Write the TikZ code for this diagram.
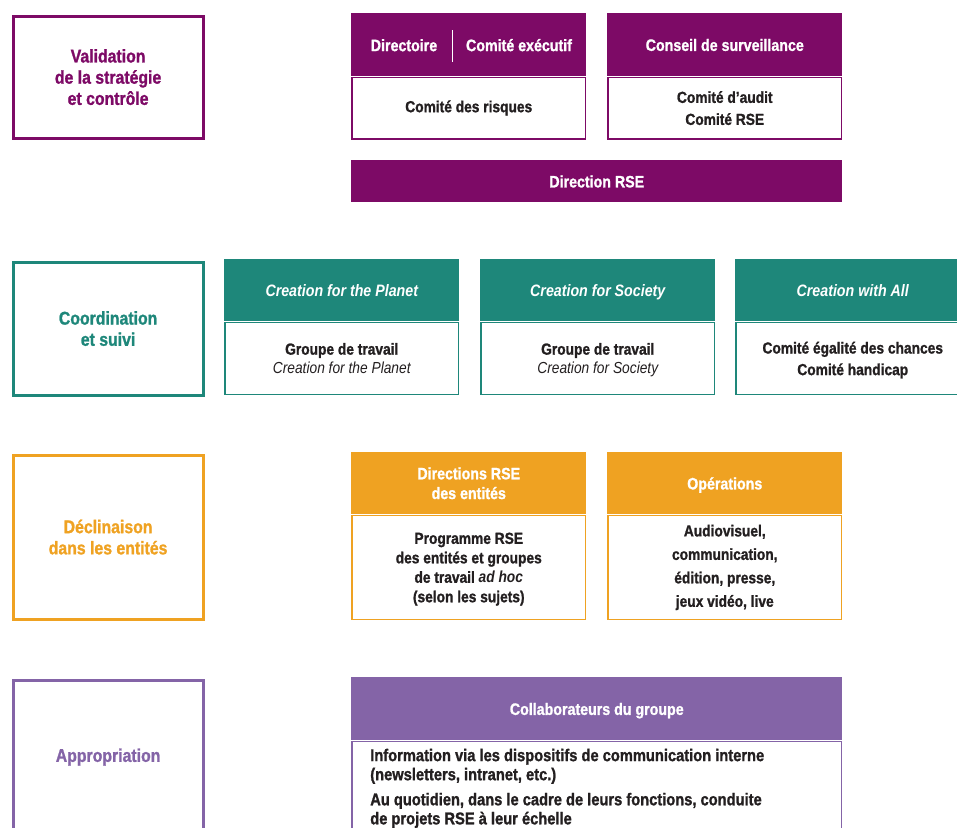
\documentclass[tikz,border=0pt]{standalone}
\usepackage{fontspec}
\setmainfont{Liberation Sans}[FakeStretch=0.86, BoldFeatures={FakeBold=1.2}]
\usetikzlibrary{positioning}

\definecolor{plum}{RGB}{125,10,102}
\definecolor{teal}{RGB}{30,135,122}
\definecolor{amber}{RGB}{239,162,34}
\definecolor{lavender}{RGB}{132,100,167}
\definecolor{ink}{RGB}{35,31,32}

\tikzset{
  sz/.style 2 args={minimum width=#1*0.75pt, minimum height=#2*0.75pt},
  % level boxes on the left
  lab/.style={draw=#1, line width=2.4pt, text=#1, align=center, inner sep=0pt,
    anchor=north west, font=\bfseries\fontsize{13.8}{15.9}\selectfont},
  % coloured title bands
  hd/.style={fill=#1, text=white, align=center, inner sep=0pt, anchor=north west,
    font=\bfseries\fontsize{12.4}{14.8}\selectfont},
  hdone/.style={text height=11.6pt, text depth=2.4pt},
  one/.style={text height=8.8pt, text depth=2.6pt},
  hdtxt/.style={text=white, inner sep=0pt, font=\bfseries\fontsize{12.4}{14.8}\selectfont},
  % white bodies under the bands
  bd/.style={draw=#1, line width=1.2pt, fill=white, text=ink, align=center, inner sep=0pt,
    font=\bfseries\fontsize{12}{14.4}\selectfont},
}

\begin{document}
\begin{tikzpicture}[x=0.75pt, y=-0.75pt]
  \useasboundingbox (0,0) rectangle (957,828);
  \clip (0,0) rectangle (957,828);

  % --- validation ---
  \node[lab=plum, sz={190}{122}] (valid) at (11.5,14.5) {Validation\\de la stratégie\\et contrôle};

  \node[hd=plum, sz={235}{63}] (dirhd) at (351,13) {};
  \node[hdtxt, hdone] (dir) at (404,45) {Directoire};
  \node[hdtxt, hdone] (comex) at (519,45) {Comité exécutif};
  \draw[white, line width=0.7pt] (452,30) -- (452,62);
  \node[bd=plum, sz={233.5}{61.5}, below=0pt of dirhd, one] (risk) {Comité des risques};

  \node[hd=plum, sz={235}{63}, hdone] (cshd) at (607,13) {Conseil de surveillance};
  \node[bd=plum, sz={233.5}{61.5}, below=0pt of cshd,
    font=\bfseries\fontsize{12}{16.5}\selectfont] (audit) {Comité d’audit\\Comité RSE};

  \node[hd=plum, sz={491}{42}, hdone] (drse) at (351,160) {Direction RSE};

  % --- coordination ---
  \node[lab=teal, sz={190}{133}] (coord) at (11.5,260.5) {Coordination\\et suivi};

  \node[hd=teal, sz={235}{62}, hdone] (planhd) at (224,259) {\itshape Creation for the Planet};
  \node[bd=teal, sz={233.5}{72.25}, below=0pt of planhd, text depth=0pt] (plan)
    {Groupe de travail\\\mdseries\itshape Creation for the Planet};

  \node[hd=teal, sz={235}{62}, hdone] (sochd) at (480,259) {\itshape Creation for Society};
  \node[bd=teal, sz={233.5}{72.25}, below=0pt of sochd, text depth=0pt] (soc)
    {Groupe de travail\\\mdseries\itshape Creation for Society};

  \node[hd=teal, sz={235}{62}, hdone] (allhd) at (735,259) {\itshape Creation with All};
  \node[bd=teal, sz={233.5}{72.25}, below=0pt of allhd, text depth=0pt,
    font=\bfseries\fontsize{12}{16.2}\selectfont] (all) {Comité égalité des chances\\Comité handicap};

  % --- declinaison ---
  \node[lab=amber, sz={190}{164}] (decl) at (11.5,453.5) {Déclinaison\\dans les entités};

  \node[hd=amber, sz={235}{62}] (enthd) at (351,452) {Directions RSE\\des entités};
  \node[bd=amber, sz={233.5}{104.25}, below=0pt of enthd, text depth=0pt,
    font=\bfseries\fontsize{12}{14.6}\selectfont] (prog)
    {Programme RSE\\des entités et groupes\\de travail \textit{ad hoc}\\(selon les sujets)};

  \node[hd=amber, sz={235}{62}, hdone] (ophd) at (607,452) {Opérations};
  \node[bd=amber, sz={233.5}{104.25}, below=0pt of ophd,
    font=\bfseries\fontsize{12}{17.6}\selectfont] (ops)
    {Audiovisuel,\\communication,\\édition, presse,\\jeux vidéo, live};

  % --- appropriation ---
  \node[lab=lavender, sz={190}{154}] (appr) at (11.5,678.5) {Appropriation};

  \node[hd=lavender, sz={491}{63}, hdone] (colhd) at (351,677) {Collaborateurs du groupe};
  \node[bd=lavender, sz={489.5}{110}, below=0pt of colhd] (col) {};
  \node[anchor=north west, inner sep=0pt, text=ink, align=left,
    font=\bfseries\fontsize{12.8}{14.3}\selectfont] (colinfo) at (370,748.5)
    {Information via les dispositifs de communication interne\\(newsletters, intranet, etc.)\\[4.5pt]
     Au quotidien, dans le cadre de leurs fonctions, conduite\\de projets RSE à leur échelle};
\end{tikzpicture}
\end{document}
